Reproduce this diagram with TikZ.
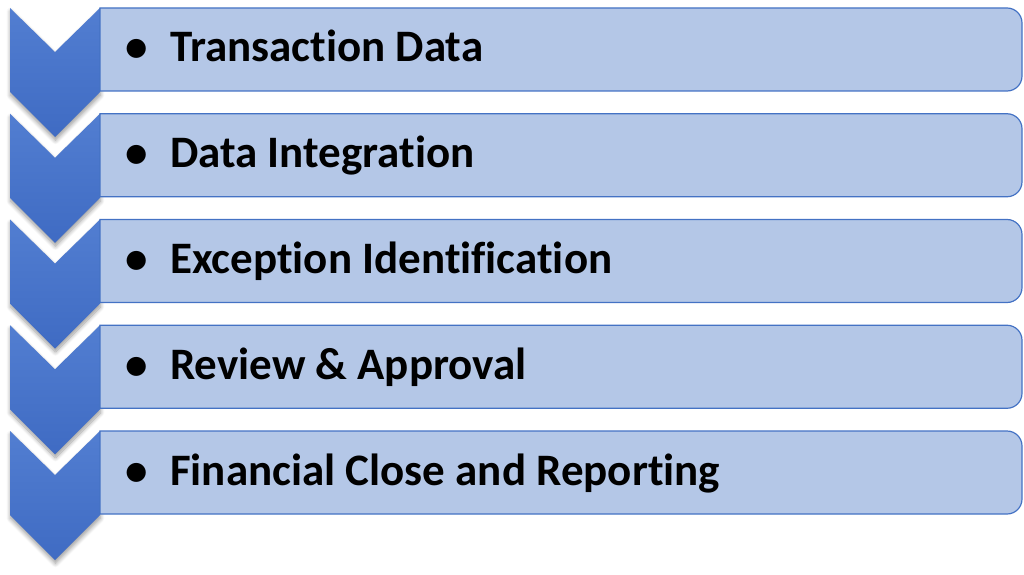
\documentclass[tikz,border=0pt]{standalone}
\usepackage{fontspec}
\setmainfont{Carlito}[Ligatures=NoCommon]
\usetikzlibrary{shadows.blur}
\definecolor{chevT}{RGB}{82,126,209}
\definecolor{chevB}{RGB}{63,107,195}
\definecolor{boxfill}{RGB}{180,199,231}
\definecolor{boxline}{RGB}{68,114,196}
\tikzset{
  chev/.style={top color=chevT, bottom color=chevB, draw=none,
    blur shadow={shadow xshift=0.5pt, shadow yshift=-3.5pt, shadow blur radius=4pt, shadow blur steps=10, shadow opacity=40}},
  box/.style={fill=boxfill, draw=boxline, line width=1.2pt},
  item/.style={anchor=base west, inner sep=0pt, font=\fontsize{45}{54}\selectfont\bfseries}
}
\begin{document}
\begin{tikzpicture}[x=1pt,y=1pt]
      \useasboundingbox (0,0) rectangle (1024,574);
      \path[chev] (10,566) -- (55,522) -- (100,566) -- (100,482) -- (55,437) -- (10,482) -- cycle;
      \path[chev] (10,460.25) -- (55,416.25) -- (100,460.25) -- (100,376.25) -- (55,331.25) -- (10,376.25) -- cycle;
      \path[chev] (10,354.5) -- (55,310.5) -- (100,354.5) -- (100,270.5) -- (55,225.5) -- (10,270.5) -- cycle;
      \path[chev] (10,248.75) -- (55,204.75) -- (100,248.75) -- (100,164.75) -- (55,119.75) -- (10,164.75) -- cycle;
      \path[chev] (10,143) -- (55,99) -- (100,143) -- (100,59) -- (55,14) -- (10,59) -- cycle;
      \draw[box] (100,566) -- (1007,566) arc[start angle=90,end angle=0,radius=15] -- (1022,498) arc[start angle=0,end angle=-90,radius=15] -- (100,483) -- cycle;
      \draw[box] (100,460.25) -- (1007,460.25) arc[start angle=90,end angle=0,radius=15] -- (1022,392.25) arc[start angle=0,end angle=-90,radius=15] -- (100,377.25) -- cycle;
      \draw[box] (100,354.5) -- (1007,354.5) arc[start angle=90,end angle=0,radius=15] -- (1022,286.5) arc[start angle=0,end angle=-90,radius=15] -- (100,271.5) -- cycle;
      \draw[box] (100,248.75) -- (1007,248.75) arc[start angle=90,end angle=0,radius=15] -- (1022,180.75) arc[start angle=0,end angle=-90,radius=15] -- (100,165.75) -- cycle;
      \draw[box] (100,143) -- (1007,143) arc[start angle=90,end angle=0,radius=15] -- (1022,75) arc[start angle=0,end angle=-90,radius=15] -- (100,60) -- cycle;
      \draw
        (125,512) node[item] (1){\makebox[45pt][l]{•}Transaction Data}
        (125,406.25) node[item] (2){\makebox[45pt][l]{•}Data Integration}
        (125,300.5) node[item] (3){\makebox[45pt][l]{•}Exception Identification}
        (125,194.75) node[item] (4){\makebox[45pt][l]{•}Review \& Approval}
        (125,89) node[item] (5){\makebox[45pt][l]{•}Financial Close and Reporting};
    \end{tikzpicture}
\end{document}
